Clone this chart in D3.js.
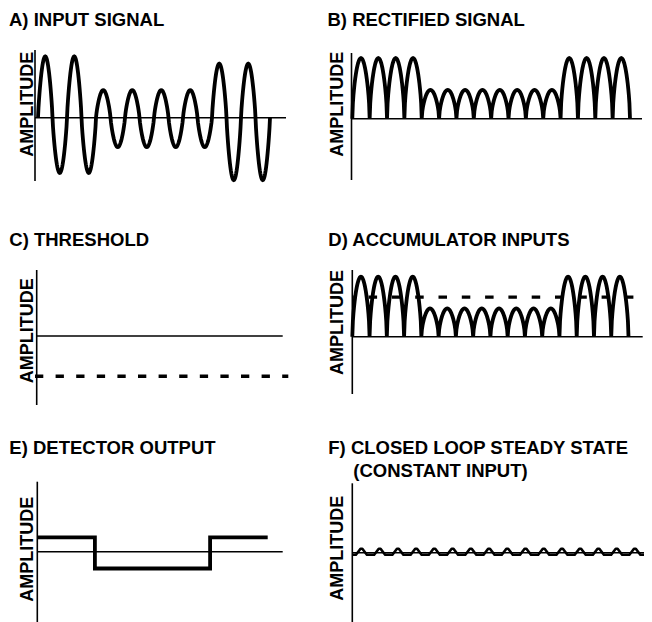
<!DOCTYPE html>
<html>
<head>
<meta charset="utf-8">
<script src="https://cdn.jsdelivr.net/npm/d3@7/dist/d3.min.js"></script>
<style>
  html, body { margin: 0; padding: 0; background: #fff; }
  svg { display: block; }
  text { font-family: "Liberation Sans", Arial, Helvetica, sans-serif; font-weight: bold; fill: #000; }
</style>
</head>
<body>
<svg id="chart" width="652" height="622"></svg>
<script>
// ---------------- DATA ----------------
const panelTitles = [
  ["A) INPUT SIGNAL"],
  ["B) RECTIFIED SIGNAL"],
  ["C) THRESHOLD"],
  ["D) ACCUMULATOR INPUTS"],
  ["E) DETECTOR OUTPUT"],
  ["F) CLOSED LOOP STEADY STATE", "(CONSTANT INPUT)"]
];
const axisLabel = "AMPLITUDE";

// A) input signal: amplitude of each half-cycle (16 half-cycles = 8 cycles)
const inputAmps = [1.02, -0.92, 1.02, -0.92, 0.46, -0.49, 0.46, -0.49,
                   0.46, -0.49, 0.46, -0.49, 0.90, -1.04, 0.90, -1.04];
// B) rectified signal: amplitude of each hump
const rectifiedAmps = [1.01, 1.01, 1.01, 1.01, 0.48, 0.48, 0.48, 0.48,
                       0.48, 0.48, 0.48, 0.48, 1.01, 1.01, 1.01, 1.01];
// C) threshold level
const thresholdLevel = -0.67;
// D) accumulator inputs: humps plus inverted threshold
const accumulatorAmps = [1.00, 1.00, 1.00, 1.00, 0.47, 0.47, 0.47, 0.47,
                         0.47, 0.47, 0.47, 0.47, 1.00, 1.00, 1.00, 1.00];
const accumulatorThreshold = 0.66;
// E) detector output: step breakpoints (in hump units) and levels
const detectorBreaks = [0, 4, 12, 16];
const detectorLevels = [0.24, -0.28, 0.24];
// F) closed loop ripple: peak and trough of each of 16 cycles
const ripplePeaks   = [0.065, 0.065, 0.065, 0.065, 0.065, 0.065, 0.065, 0.065,
                       0.065, 0.065, 0.065, 0.065, 0.065, 0.065, 0.065, 0.065];
const rippleTroughs = [-0.035, -0.035, -0.035, -0.035, -0.035, -0.035, -0.035, -0.035,
                       -0.035, -0.035, -0.035, -0.035, -0.035, -0.035, -0.035, -0.035];

// ---------------- DRAWING ----------------
const svg = d3.select("#chart");
const UNIT = 60; // px per amplitude unit

// shape exponent < 1 makes arches fuller (hand-drawn look)
function halfSinePoints(amps, samples, shape) {
  const pts = [];
  amps.forEach((a, i) => {
    for (let s = (i === 0 ? 0 : 1); s <= samples; s++) {
      const f = s / samples;
      pts.push([i + f, a * Math.pow(Math.sin(Math.PI * f), shape)]);
    }
  });
  return pts;
}

function makePanel(cfg) {
  const g = svg.append("g");
  const y = d3.scaleLinear().domain([0, 1]).range([cfg.zeroY, cfg.zeroY - UNIT]);
  const x = d3.scaleLinear().domain(cfg.tDomain).range(cfg.tRange);

  cfg.title.forEach((line, i) => {
    g.append("text")
      .attr("x", cfg.titleX[i])
      .attr("y", cfg.titleY[i])
      .attr("font-size", 18.5)
      .text(line);
  });

  g.append("text")
    .attr("transform", `translate(${cfg.labelX},${cfg.labelY}) rotate(-90)`)
    .attr("text-anchor", "middle")
    .attr("font-size", 18)
    .text(axisLabel);

  g.append("line")
    .attr("x1", cfg.axisX).attr("x2", cfg.axisX)
    .attr("y1", cfg.axisTop).attr("y2", cfg.axisBottom)
    .attr("stroke", "#000").attr("stroke-width", 1.6);
  g.append("line")
    .attr("x1", cfg.axisX).attr("x2", cfg.hEnd)
    .attr("y1", y(0)).attr("y2", y(0))
    .attr("stroke", "#000").attr("stroke-width", 1.6);

  return { g, x, y };
}

const line = (x, y) => d3.line().x(d => x(d[0])).y(d => y(d[1]));

// Panel A
{
  const p = makePanel({
    title: panelTitles[0], titleX: [9], titleY: [25.5],
    labelX: 32.5, labelY: 104.2,
    axisX: 35, axisTop: 50, axisBottom: 181, zeroY: 117.7, hEnd: 286,
    tDomain: [0, 16], tRange: [38, 270]
  });
  p.g.append("path").datum(halfSinePoints(inputAmps, 30, 0.8))
    .attr("d", line(p.x, p.y)).attr("fill", "none")
    .attr("stroke", "#000").attr("stroke-width", 3.8);
}

// Panel B
{
  const p = makePanel({
    title: panelTitles[1], titleX: [327.5], titleY: [25.7],
    labelX: 343, labelY: 104.2,
    axisX: 351.5, axisTop: 53, axisBottom: 180, zeroY: 118.7, hEnd: 642,
    tDomain: [0, 16], tRange: [352.3, 630]
  });
  p.g.append("path").datum(halfSinePoints(rectifiedAmps, 30, 0.6))
    .attr("d", line(p.x, p.y)).attr("fill", "none")
    .attr("stroke", "#000").attr("stroke-width", 3.8);
}

// Panel C
{
  const p = makePanel({
    title: panelTitles[2], titleX: [9.3], titleY: [245.7],
    labelX: 33, labelY: 330.8,
    axisX: 36.7, axisTop: 270, axisBottom: 405, zeroY: 336, hEnd: 282.7,
    tDomain: [0, 1], tRange: [35, 288.3]
  });
  p.g.append("line")
    .attr("x1", p.x(0)).attr("x2", p.x(1))
    .attr("y1", p.y(thresholdLevel)).attr("y2", p.y(thresholdLevel))
    .attr("stroke", "#000").attr("stroke-width", 3.6)
    .attr("stroke-dasharray", "8.3,12.3");
}

// Panel D
{
  const p = makePanel({
    title: panelTitles[3], titleX: [328.3], titleY: [246],
    labelX: 343.3, labelY: 322.5,
    axisX: 352.3, axisTop: 270, axisBottom: 394, zeroY: 336.7, hEnd: 642.7,
    tDomain: [0, 16], tRange: [352.3, 628.5]
  });
  p.g.append("line")
    .attr("x1", p.x(0)).attr("x2", 640)
    .attr("y1", p.y(accumulatorThreshold)).attr("y2", p.y(accumulatorThreshold))
    .attr("stroke", "#000").attr("stroke-width", 3.4)
    .attr("stroke-dasharray", "8.5,14.8")
    .attr("stroke-dashoffset", 7);
  p.g.append("path").datum(halfSinePoints(accumulatorAmps, 30, 0.6))
    .attr("d", line(p.x, p.y)).attr("fill", "none")
    .attr("stroke", "#000").attr("stroke-width", 3.8);
}

// Panel E
{
  const p = makePanel({
    title: panelTitles[4], titleX: [9.3], titleY: [453.7],
    labelX: 33.3, labelY: 549.2,
    axisX: 37.3, axisTop: 481.7, axisBottom: 622, zeroY: 551.7, hEnd: 282.7,
    tDomain: [0, 16], tRange: [37.3, 267.7]
  });
  const pts = [];
  detectorLevels.forEach((v, i) => {
    pts.push([detectorBreaks[i], v]);
    pts.push([detectorBreaks[i + 1], v]);
  });
  p.g.append("path").datum(pts)
    .attr("d", line(p.x, p.y)).attr("fill", "none")
    .attr("stroke", "#000").attr("stroke-width", 3.8)
    .attr("stroke-linejoin", "miter");
}

// Panel F
{
  const p = makePanel({
    title: panelTitles[5], titleX: [328.3, 353.3], titleY: [454.3, 477.3],
    labelX: 343.3, labelY: 548.3,
    axisX: 352.3, axisTop: 483.3, axisBottom: 622, zeroY: 552.7, hEnd: 644,
    tDomain: [0, 16], tRange: [352.3, 644]
  });
  // each cycle: flat trough, sharp rise to peak, fall back to trough
  const pts = [];
  ripplePeaks.forEach((pk, i) => {
    const tr = rippleTroughs[i];
    pts.push([i, tr]);
    pts.push([i + 0.2, tr]);
    pts.push([i + 0.45, pk]);
    pts.push([i + 0.55, pk]);
    pts.push([i + 0.8, tr]);
  });
  pts.push([16, rippleTroughs[15]]);
  p.g.append("path").datum(pts)
    .attr("d", line(p.x, p.y)).attr("fill", "none")
    .attr("stroke", "#000").attr("stroke-width", 2.6)
    .attr("stroke-linejoin", "round");
}
</script>
</body>
</html>
